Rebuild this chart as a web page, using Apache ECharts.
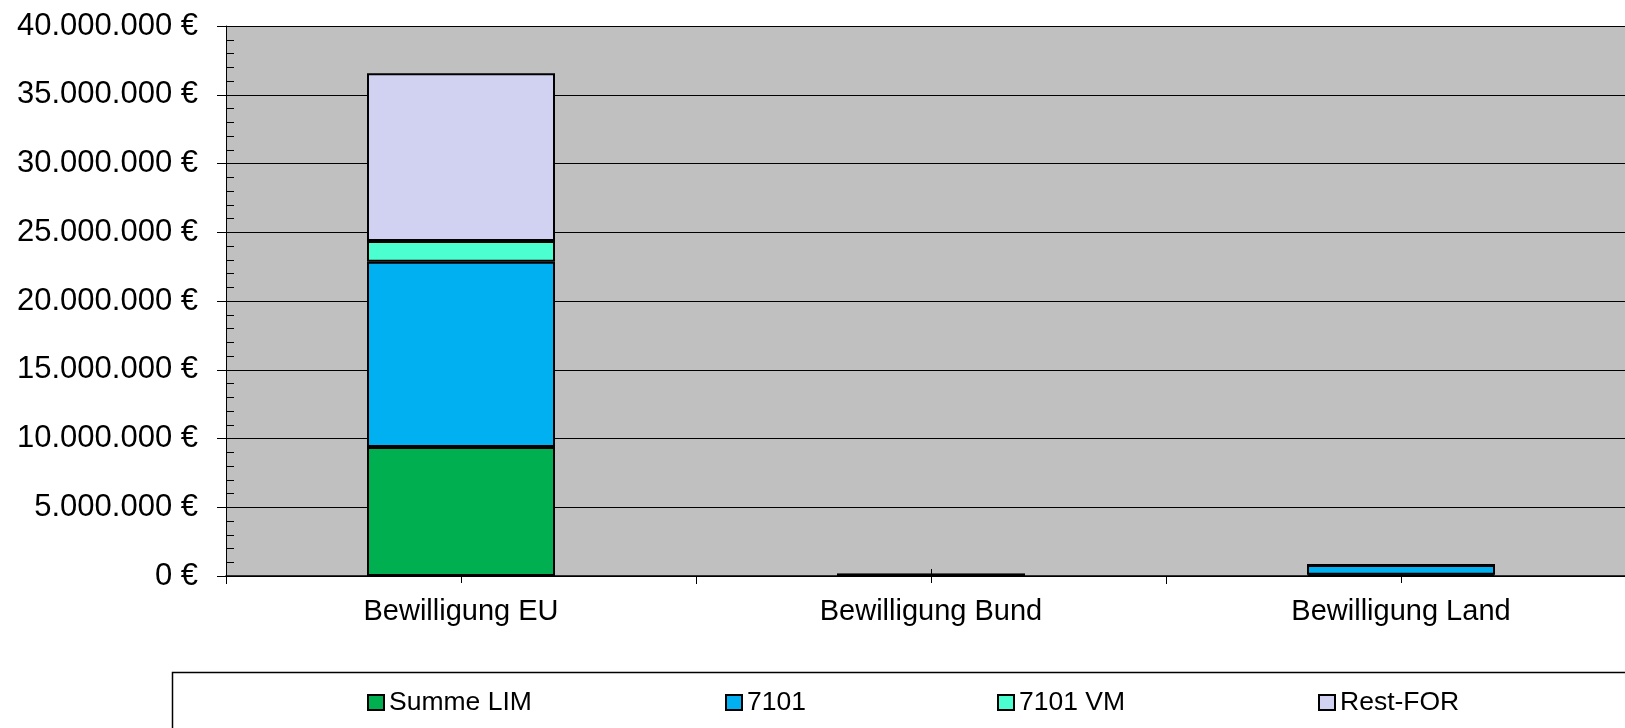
<!DOCTYPE html>
<html>
<head>
<meta charset="utf-8">
<script src="https://cdn.jsdelivr.net/npm/echarts@6/dist/echarts.min.js"></script>
<style>
html,body{margin:0;padding:0;background:#fff;}
#chart{width:1625px;height:728px;}
</style>
</head>
<body>
<div id="chart"></div>
<script>
const categories = ['Bewilligung EU', 'Bewilligung Bund', 'Bewilligung Land'];
const seriesNames = ['Summe LIM', '7101', '7101 VM', 'Rest-FOR'];
const summeLIM = [9380000, 100000, 100000];
const v7101 = [13480000, 0, 700000];
const v7101VM = [1500000, 0, 0];
const restFOR = [12200000, 0, 0];
const yTicks = [0, 5000000, 10000000, 15000000, 20000000, 25000000, 30000000, 35000000, 40000000];

const colors = ['#00b050', '#00b0f0', '#4bffd0', '#d1d1f1'];
const FONT = "'Liberation Sans', Arial, sans-serif";

function fmt(v) {
  return String(v).replace(/\B(?=(\d{3})+(?!\d))/g, '.') + ' €';
}

const chart = echarts.init(document.getElementById('chart'), null, {renderer: 'canvas'});
const values = [summeLIM, v7101, v7101VM, restFOR];
const yMax = yTicks[yTicks.length - 1];
const yStep = yTicks[1] - yTicks[0];

const legendLefts = [367, 725, 997, 1318];

const option = {
  animation: false,
  backgroundColor: '#ffffff',
  textStyle: {fontFamily: FONT, color: '#000'},
  grid: {
    left: 226, width: 1410, top: 26, bottom: 152,
    outerBoundsMode: 'none',
    containLabel: false,
    show: true, backgroundColor: '#c0c0c0', borderWidth: 0
  },
  graphic: [{
    type: 'rect',
    left: 170, top: 670,
    shape: {width: 1500, height: 100},
    style: {fill: 'none', stroke: '#000', lineWidth: 1.5},
    silent: true
  }],
  legend: seriesNames.map((n, i) => ({
    data: [n],
    left: legendLefts[i],
    top: 689,
    padding: 0,
    itemWidth: 16,
    itemHeight: 15,
    icon: 'rect',
    selectedMode: false,
    itemStyle: {borderColor: '#000', borderWidth: 2},
    textStyle: {fontFamily: FONT, fontSize: 26.5, color: '#000'}
  })),
  xAxis: [
    {
      type: 'category', data: categories, position: 'bottom',
      axisLine: {show: true, lineStyle: {color: '#000', width: 1.5}},
      axisTick: {show: true, alignWithLabel: false, interval: 0, length: 8, lineStyle: {color: '#000'}},
      axisLabel: {fontFamily: FONT, fontSize: 29, color: '#000', margin: 21, interval: 0},
      splitLine: {show: false}
    },
    {
      type: 'category', data: categories, position: 'bottom',
      axisLine: {show: false},
      axisTick: {show: true, alignWithLabel: true, inside: true, interval: 0, length: 7, lineStyle: {color: '#000'}},
      axisLabel: {show: false},
      splitLine: {show: false}
    },
    {
      type: 'category', data: categories, position: 'bottom',
      axisLine: {show: false},
      axisTick: {show: true, alignWithLabel: true, inside: false, interval: 0, length: 7, lineStyle: {color: '#000'}},
      axisLabel: {show: false},
      splitLine: {show: false}
    }
  ],
  yAxis: [
    {
      type: 'value', min: 0, max: yMax, interval: yStep, position: 'left',
      axisLine: {show: true, lineStyle: {color: '#000', width: 1}},
      axisTick: {show: true, length: 9, lineStyle: {color: '#000'}},
      axisLabel: {fontFamily: FONT, fontSize: 31, color: '#000', margin: 28, formatter: fmt},
      splitLine: {show: true, lineStyle: {color: '#000', width: 1}}
    },
    {
      type: 'value', min: 0, max: yMax, interval: yStep / 5, position: 'left',
      axisLine: {show: false},
      axisTick: {show: true, inside: true, length: 8, lineStyle: {color: '#000'}},
      axisLabel: {show: false},
      splitLine: {show: false}
    }
  ],
  series: seriesNames.map((n, i) => ({
    name: n,
    type: 'bar',
    stack: 'total',
    xAxisIndex: 0,
    yAxisIndex: 0,
    barWidth: '40%',
    data: values[i],
    itemStyle: {color: colors[i], borderColor: '#000', borderWidth: 2}
  }))
};
chart.setOption(option);
</script>
</body>
</html>
